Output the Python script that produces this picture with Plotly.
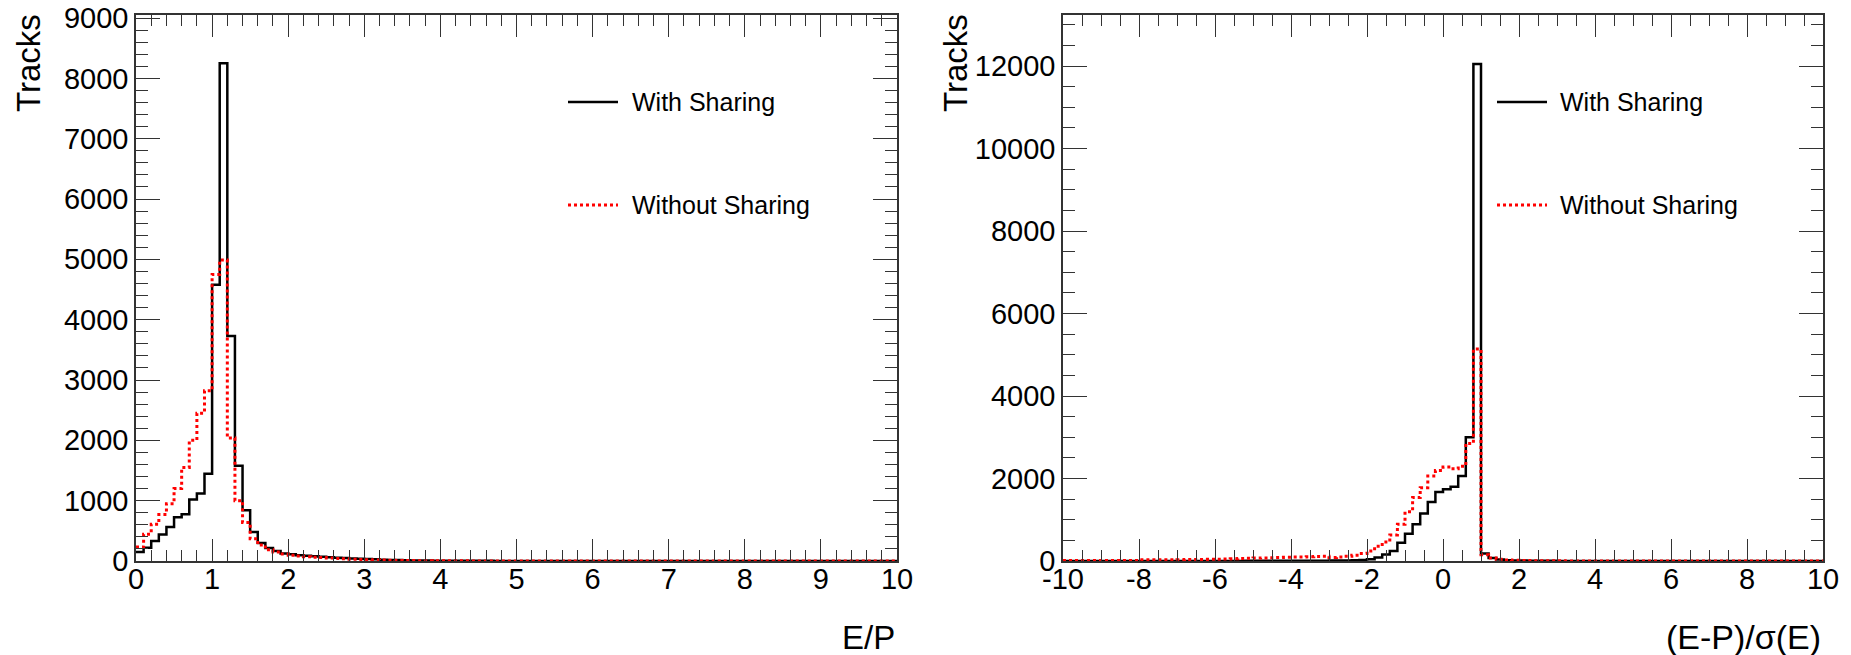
import plotly.graph_objects as go

W, H = 1851, 655

# ---------------- data ----------------
# Left: E/P, 100 bins from 0 to 10 (width 0.1)
ep_lo, ep_w = 0.0, 0.1
ep_with = [150, 220, 330, 440, 565, 725, 775, 1020, 1120, 1445,
           4580, 8250, 3730, 1580, 840, 480, 300, 215, 165, 125,
           110, 95, 85, 78, 70, 62, 55, 48, 42, 38,
           32, 27, 22, 18, 15, 12, 10, 8, 7, 6,
           5, 5, 4, 4, 3, 3, 3, 2, 2, 2,
           2, 2, 1, 1, 1, 1, 1, 1, 1, 1,
           1, 1, 1, 0, 0, 0, 0, 0, 0, 0,
           0, 0, 0, 0, 0, 0, 0, 0, 0, 0,
           0, 0, 0, 0, 0, 0, 0, 0, 0, 0,
           0, 0, 0, 0, 0, 0, 0, 0, 0, 0]
ep_without = [230, 445, 610, 770, 950, 1200, 1550, 2000, 2450, 2820,
              4750, 4990, 2040, 1000, 640, 370, 265, 185, 150, 115,
              95, 82, 72, 64, 56, 48, 42, 36, 30, 26,
              22, 18, 15, 12, 10, 8, 7, 6, 5, 4,
              4, 3, 3, 3, 2, 2, 2, 2, 1, 1,
              1, 1, 1, 1, 1, 1, 1, 0, 0, 0,
              0, 0, 0, 0, 0, 0, 0, 0, 0, 0,
              0, 0, 0, 0, 0, 0, 0, 0, 0, 0,
              0, 0, 0, 0, 0, 0, 0, 0, 0, 0,
              0, 0, 0, 0, 0, 0, 0, 0, 0, 0]

# Right: (E-P)/sigma(E), 100 bins from -10 to 10 (width 0.2)
pull_lo, pull_w = -10.0, 0.2
pull_with = [2, 2, 2, 2, 2, 2, 2, 2, 2, 2,
             2, 2, 2, 2, 2, 2, 2, 2, 2, 2,
             3, 3, 3, 3, 4, 4, 4, 4, 5, 5,
             5, 6, 6, 7, 8, 10, 12, 15, 20, 26,
             43, 87, 156, 243, 442, 658, 892, 1152, 1430, 1672,
             1741, 1802, 2062, 2998, 12050, 180, 70, 35, 20, 15,
             10, 8, 6, 5, 4, 3, 3, 2, 2, 2,
             1, 1, 1, 1, 1, 1, 1, 1, 1, 1,
             1, 1, 1, 1, 1, 1, 1, 1, 1, 1,
             1, 1, 1, 1, 1, 1, 1, 1, 1, 1]
pull_without = [15, 15, 15, 15, 15, 15, 15, 15, 15, 15,
                30, 30, 30, 30, 30, 32, 34, 36, 38, 40,
                45, 50, 55, 60, 65, 70, 75, 80, 85, 90,
                95, 100, 105, 110, 115, 87, 95, 113, 139, 182,
                243, 355, 459, 632, 892, 1196, 1542, 1776, 2062, 2192,
                2279, 2235, 2296, 2850, 5138, 150, 70, 40, 25, 18,
                14, 10, 8, 6, 5, 4, 3, 3, 2, 2,
                2, 2, 1, 1, 1, 1, 1, 1, 1, 1,
                1, 1, 1, 1, 1, 1, 1, 1, 1, 1,
                1, 1, 1, 1, 1, 1, 1, 1, 1, 1]

series_names = ["With Sharing", "Without Sharing"]

ep_ticks = list(range(0, 11))
ep_ticklabels = [str(v) for v in ep_ticks]
pull_ticks = list(range(-10, 11, 2))
pull_ticklabels = [str(v) for v in pull_ticks]  # ASCII hyphen-minus like the original


def step_xy(lo, w, vals):
    xs = [lo + i * w for i in range(len(vals) + 1)]
    ys = list(vals) + [vals[-1]]
    return xs, ys


# ---------------- figure ----------------
fig = go.Figure()
BLACK = "#000000"
RED = "#ff0000"

for (lo, w, vals, color, dash, width, xa, ya, name) in [
    (ep_lo, ep_w, ep_with, BLACK, "solid", 2.5, "x", "y", series_names[0]),
    (ep_lo, ep_w, ep_without, RED, "dot", 3, "x", "y", series_names[1]),
    (pull_lo, pull_w, pull_with, BLACK, "solid", 2.5, "x2", "y2", series_names[0]),
    (pull_lo, pull_w, pull_without, RED, "dot", 3, "x2", "y2", series_names[1]),
]:
    xs, ys = step_xy(lo, w, vals)
    fig.add_trace(go.Scatter(x=xs, y=ys, mode="lines", line_shape="hv",
                             line=dict(color=color, width=width, dash=dash),
                             xaxis=xa, yaxis=ya, name=name, showlegend=False,
                             hoverinfo="skip"))

FONT = "Liberation Sans, Arial, sans-serif"
tickfont = dict(family=FONT, size=29, color="black")
LINEC = "#333333"

y_bot = 1 - 561 / H
y_top = 1 - 15 / H
xl = [136 / W, 897 / W]
xr = [1063 / W, 1823 / W]

common_x = dict(showgrid=False, zeroline=False, showline=True, linecolor=LINEC,
                linewidth=1.5, mirror="allticks", ticks="inside", ticklen=22,
                tickwidth=1.2, tickcolor=LINEC, tickfont=tickfont, automargin=False,
                ticklabelstandoff=-9)
common_y = dict(showgrid=False, zeroline=False, showline=True, linecolor=LINEC,
                linewidth=1.5, mirror="allticks", ticks="inside", ticklen=24,
                tickwidth=1.2, tickcolor=LINEC, tickfont=tickfont, automargin=False,
                tickformat="d")

fig.update_layout(
    template="none",
    width=W, height=H,
    margin=dict(l=0, r=0, t=0, b=0, pad=0),
    paper_bgcolor="white", plot_bgcolor="white",
    showlegend=False,
    xaxis=dict(domain=xl, range=[0, 10], tickmode="array", tickvals=ep_ticks,
               ticktext=ep_ticklabels, anchor="y",
               minor=dict(ticks="inside", dtick=0.2, tick0=0, ticklen=11, tickcolor=LINEC, tickwidth=1),
               **common_x),
    yaxis=dict(domain=[y_bot, y_top], range=[0, 9050], dtick=1000, tick0=0, anchor="x",
               minor=dict(ticks="inside", dtick=200, tick0=0, ticklen=12, tickcolor=LINEC, tickwidth=1),
               **common_y),
    xaxis2=dict(domain=xr, range=[-10, 10], tickmode="array", tickvals=pull_ticks,
                ticktext=pull_ticklabels, anchor="y2",
                minor=dict(ticks="inside", dtick=0.5, tick0=0, ticklen=11, tickcolor=LINEC, tickwidth=1),
                **common_x),
    yaxis2=dict(domain=[y_bot, y_top], range=[0, 13240], dtick=2000, tick0=0, anchor="x2",
                minor=dict(ticks="inside", dtick=500, tick0=0, ticklen=12, tickcolor=LINEC, tickwidth=1),
                **common_y),
)

ann = [
    dict(text="E/P", x=897 / W, y=1 - 637 / H, xanchor="right", yanchor="middle", size=33),
    dict(text="(E-P)/σ(E)", x=1823 / W, y=1 - 637 / H, xanchor="right", yanchor="middle", size=34),
    dict(text="Tracks", x=28 / W, y=1 - 12 / H, xanchor="center", yanchor="top", textangle=-90, size=33),
    dict(text="Tracks", x=955 / W, y=1 - 12 / H, xanchor="center", yanchor="top", textangle=-90, size=33),
]
for a in ann:
    sz = a.pop("size")
    fig.add_annotation(xref="paper", yref="paper", showarrow=False,
                       font=dict(family=FONT, size=sz, color="black"), **a)

# legends (one per panel)
legfont = dict(family=FONT, size=25, color="black")
for (lx0, lx1, tx) in [(568, 618, 630), (1497, 1547, 1558)]:
    for (yy, color, dash, name) in [(102, BLACK, "solid", series_names[0]),
                                     (205, RED, "dot", series_names[1])]:
        fig.add_shape(type="line", xref="paper", yref="paper",
                      x0=lx0 / W, x1=lx1 / W, y0=1 - yy / H, y1=1 - yy / H,
                      line=dict(color=color, width=2.5 if dash == "solid" else 3, dash=dash))
        fig.add_annotation(xref="paper", yref="paper", showarrow=False,
                           x=tx / W, y=1 - yy / H, xanchor="left", yanchor="middle",
                           text=name, font=legfont)

fig.write_html("out.html")
